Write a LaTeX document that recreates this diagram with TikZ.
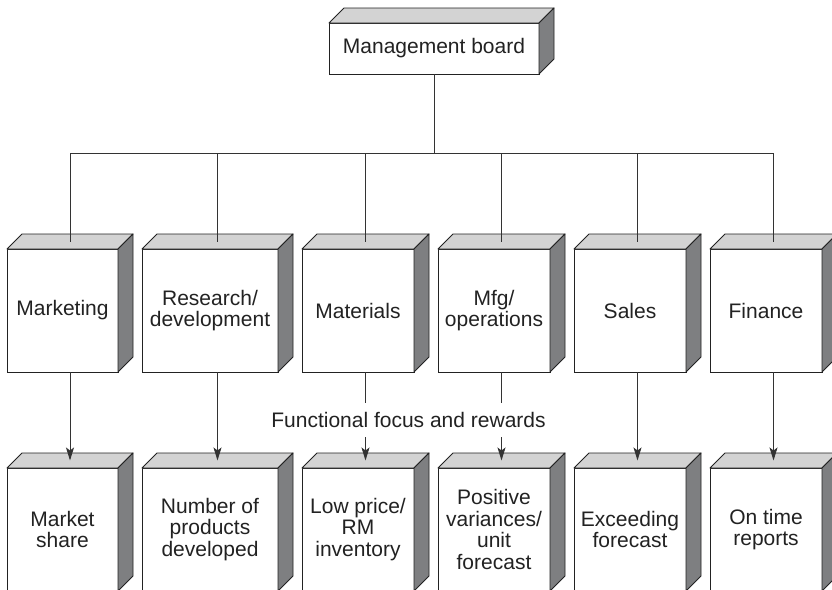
\documentclass[tikz,border=0pt]{standalone}
\usepackage{fontspec}
\setmainfont{Liberation Sans}
\usetikzlibrary{calc,arrows.meta}
\definecolor{inkc}{HTML}{222222}
\definecolor{linec}{HTML}{333333}
\definecolor{topc}{HTML}{D3D3D3}
\definecolor{sidec}{HTML}{7E7F81}
\tikzset{
  front/.style={draw=inkc, fill=white, line width=0.9pt, inner sep=0pt, outer sep=0pt,
    align=center, text=inkc, font=\fontsize{21}{21.5}\selectfont},
  topface/.style={draw=inkc, fill=topc, line width=0.9pt, line join=round},
  sideface/.style={draw=inkc, fill=sidec, line width=0.9pt, line join=round},
  conn/.style={draw=linec, line width=1pt},
  arr/.style={conn, -{Stealth[length=13pt,width=8pt,inset=3pt]}},
}
\newcommand\cubebox[6]{%
  \node[front, minimum width=#4pt, minimum height=#5pt] (#1) at (#2+#4/2, #3+#5/2) {#6};
  \filldraw[topface] (#1.north west) -- (#1.north east) -- ++(15,-15) -- ($(#1.north west)+(15,-15)$) -- cycle;
  \filldraw[sideface] (#1.north east) -- (#1.south east) -- ++(15,-15) -- ($(#1.north east)+(15,-15)$) -- cycle;
  \coordinate (#1-top) at ($(#1.north)+(7.5,-7.5)$);
}
\begin{document}
\begin{tikzpicture}[x=1pt, y=-1pt]
\clip (0,0) rectangle (832,589);
\fill[white] (0,0) rectangle (832,589);
% top
\cubebox{mb}{329}{23}{210}{51}{Management board}
% middle row
\cubebox{mkt}{7}{249}{111}{123}{Marketing}
\cubebox{rd}{142}{249}{136}{123}{Research/\\development}
\cubebox{mat}{302}{249}{112}{123}{Materials}
\cubebox{mfg}{438}{249}{112}{123}{Mfg/\\operations}
\cubebox{sal}{574}{249}{112}{123}{Sales}
\cubebox{fin}{710}{249}{112}{123}{Finance}
% bottom row
\cubebox{msh}{7}{468}{111}{123}{Market\\share}
\cubebox{nop}{142}{468}{136}{123}{Number of\\products\\developed}
\cubebox{lpr}{302}{468}{112}{123}{Low price/\\RM\\inventory}
\cubebox{pos}{438}{468}{112}{123}{Positive\\variances/\\unit\\forecast}
\cubebox{exc}{574}{468}{112}{123}{Exceeding\\forecast}
\cubebox{otr}{710}{468}{112}{123}{On time\\reports}
% tree connectors
\coordinate (bus) at (434,153);
\draw[conn] (mb.south) -- (bus);
\draw[conn] (bus -| mkt-top) -- (bus -| fin-top);
\foreach \n in {mkt,rd,mat,mfg,sal,fin}{
  \draw[conn] (bus -| \n-top) -- (\n-top);
}
% arrows down
\draw[arr] (mkt-top |- mkt.south) -- (msh-top);
\draw[arr] (rd-top |- rd.south) -- (nop-top);
\draw[arr] (sal-top |- sal.south) -- (exc-top);
\draw[arr] (fin-top |- fin.south) -- (otr-top);
% label
\node[text=inkc, font=\fontsize{21}{21.5}\selectfont, inner xsep=0pt, inner ysep=9.5pt,
      text height=15pt, text depth=0pt] (lbl) at (408.5,420) {Functional focus and rewards};
\draw[conn] (mat-top |- mat.south) -- (mat-top |- lbl.north);
\draw[arr] (mat-top |- lbl.south) -- (lpr-top);
\draw[conn] (mfg-top |- mfg.south) -- (mfg-top |- lbl.north);
\draw[arr] (mfg-top |- lbl.south) -- (pos-top);
\end{tikzpicture}
\end{document}
